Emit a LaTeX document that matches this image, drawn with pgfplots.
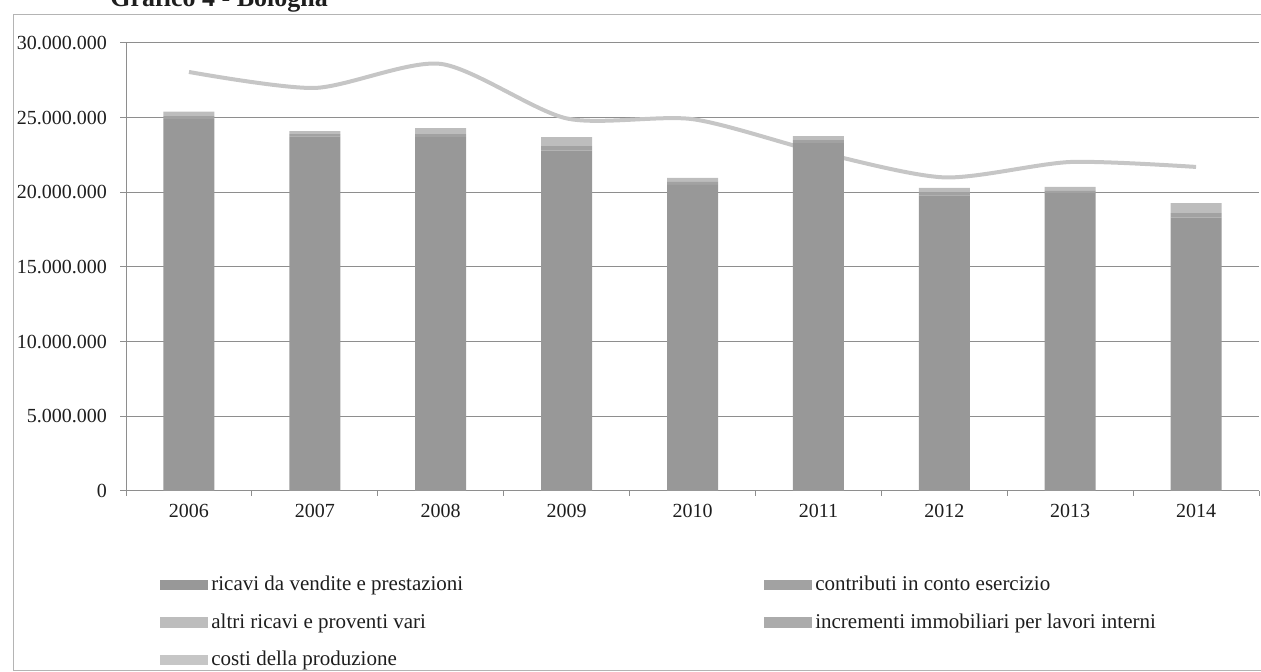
\documentclass[border=0pt]{standalone}
\usepackage{pgfplots}
\pgfplotsset{compat=1.18}
\usepackage{fontspec}
\setmainfont{Liberation Serif}

\definecolor{ricavi}{HTML}{989898}
\definecolor{contributi}{HTML}{A2A2A2}
\definecolor{altri}{HTML}{BDBDBD}
\definecolor{incrementi}{HTML}{ABABAB}
\definecolor{costi}{HTML}{C6C6C6}
\definecolor{gridgray}{HTML}{8E8E8E}
\definecolor{framegray}{HTML}{B4B4B4}
\definecolor{ink}{HTML}{1E1E1E}

\pgfplotsset{
  panel/.style={
    scale only axis, width=566.5pt, height=224pt,
    at={(63pt,90.5pt)}, anchor=south west,
    xmin=-0.5, xmax=8.5, ymin=0, ymax=30000000,
  },
  swatch/.style={legend image code/.code={\fill[##1] (0pt,-2.6pt) rectangle (24pt,2.6pt);}},
}

\begin{document}
\begin{tikzpicture}[font=\fontsize{10.5}{12}\selectfont]
\useasboundingbox (0,0) rectangle (630.5pt,336pt);
\clip (0,0) rectangle (630.5pt,336pt);
% outer frame of the figure
\draw[framegray, line width=0.5pt] (6.5pt,0.8pt) -- (6.5pt,328.5pt) -- (631pt,328.5pt);
\draw[framegray, line width=0.5pt] (6.5pt,0.8pt) -- (631pt,0.8pt);
\node[anchor=base west, inner sep=0pt, text=ink, font=\fontsize{13}{15}\selectfont\bfseries] at (55pt,332.5pt) {Grafico 4 - Bologna};

% axis frame, grid and the cost line
\begin{axis}[panel,
  axis x line*=bottom, axis y line*=left,
  axis line style={gridgray, line width=0.5pt},
  ymajorgrids, grid style={gridgray, line width=0.5pt},
  tick align=outside,
  major tick length=3pt, minor tick length=2.5pt,
  tick label style={font=\fontsize{10}{12}\selectfont},
  ytick={0,5000000,10000000,15000000,20000000,25000000,30000000},
  scaled y ticks=false,
  yticklabel style={text=ink, xshift=-3pt, /pgf/number format/fixed, /pgf/number format/precision=0,
    /pgf/number format/1000 sep={.}, /pgf/number format/assume math mode=true},
  xtick={0,1,2,3,4,5,6,7,8},
  xticklabels={2006,2007,2008,2009,2010,2011,2012,2013,2014},
  xticklabel style={text=ink},
  minor xtick={-0.5,0.5,1.5,2.5,3.5,4.5,5.5,6.5,7.5,8.5},
  major x tick style={draw=none},
  minor x tick style={gridgray, line width=0.5pt},
  y tick style={gridgray, line width=0.5pt},
]
\addplot[costi, line width=2pt, smooth, tension=0.45] coordinates {
  (0,28060000) (1,26990000) (2,28600000) (3,24950000) (4,24900000)
  (5,22700000) (6,21000000) (7,22030000) (8,21700000)};
\end{axis}

% stacked revenue bars and the legend
\begin{axis}[panel, hide axis, ybar stacked, bar width=25.5pt,
  legend columns=2, legend cell align=left,
  legend style={at={(0.030,-0.18)}, anchor=north west, draw=none, fill=none,
    inner sep=0pt, text=ink, font=\fontsize{10.5}{12}\selectfont, row sep=6pt,
    nodes={inner xsep=1.5pt},
    /tikz/every odd column/.append style={column sep=0pt},
    /tikz/every even column/.append style={column sep=149pt}},
]
\addplot[fill=ricavi, draw=none, swatch] coordinates {
  (0,24900000) (1,23750000) (2,23700000) (3,22800000) (4,20500000)
  (5,23300000) (6,19800000) (7,19950000) (8,18300000)};
\addlegendentry{ricavi da vendite e prestazioni}
\addplot[fill=contributi, draw=none, swatch] coordinates {
  (0,200000) (1,150000) (2,200000) (3,300000) (4,200000)
  (5,200000) (6,200000) (7,150000) (8,300000)};
\addlegendentry{contributi in conto esercizio}
\addplot[fill=altri, draw=none, swatch] coordinates {
  (0,300000) (1,200000) (2,400000) (3,600000) (4,260000)
  (5,270000) (6,300000) (7,260000) (8,680000)};
\addlegendentry{altri ricavi e proventi vari}
\addplot[fill=incrementi, draw=none, swatch] coordinates {
  (0,0) (1,0) (2,0) (3,0) (4,0) (5,0) (6,0) (7,0) (8,0)};
\addlegendentry{incrementi immobiliari per lavori interni}
\addlegendimage{swatch, fill=costi, draw=none}
\addlegendentry{costi della produzione}
\end{axis}
\end{tikzpicture}
\end{document}
